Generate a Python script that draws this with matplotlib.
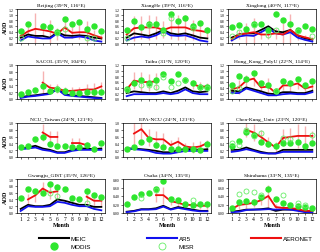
import numpy as np
import matplotlib
matplotlib.use('Agg')
import matplotlib.pyplot as plt
from matplotlib.lines import Line2D

nan = np.nan
months = np.arange(1, 13)

sites = ['Beijing (39°N, 116°E)', 'XiangHe (39°N, 116°E)', 'Xinglong (40°N, 117°E)',
         'SACOL (35°N, 104°E)', 'Taihu (31°N, 120°E)', 'Hong_Kong_PolyU (22°N, 114°E)',
         'NCU_Taiwan (24°N, 121°E)', 'EPA-NCU (24°N, 121°E)', 'Chen-Kung_Univ (23°N, 120°E)',
         'Gwangju_GIST (35°N, 126°E)', 'Osaka (34°N, 135°E)', 'Shirahama (33°N, 135°E)']
ytops = [1.2, 1.2, 1.2, 1.0, 1.2, 1.2, 1.0, 1.0, 1.0, 1.0, 0.8, 0.8]

meic = [
    [0.19, 0.30, 0.25, 0.25, 0.19, 0.38, 0.27, 0.25, 0.27, 0.25, 0.19, 0.16],
    [0.19, 0.34, 0.30, 0.25, 0.34, 0.46, 0.34, 0.30, 0.34, 0.27, 0.19, 0.16],
    [0.19, 0.30, 0.34, 0.34, 0.46, 0.59, 0.41, 0.38, 0.46, 0.27, 0.16, 0.12],
    [0.05, 0.09, 0.11, 0.14, 0.17, 0.31, 0.14, 0.11, 0.09, 0.07, 0.05, 0.03],
    [0.21, 0.27, 0.24, 0.21, 0.21, 0.27, 0.21, 0.29, 0.41, 0.27, 0.24, 0.27],
    [0.29, 0.27, 0.41, 0.34, 0.27, 0.19, 0.17, 0.24, 0.24, 0.21, 0.21, 0.29],
    [0.25, 0.28, 0.33, 0.25, 0.21, 0.14, 0.14, 0.21, 0.25, 0.25, 0.23, 0.25],
    [0.25, 0.25, 0.23, 0.21, 0.18, 0.14, 0.14, 0.21, 0.23, 0.23, 0.21, 0.23],
    [0.21, 0.21, 0.28, 0.21, 0.15, 0.11, 0.11, 0.21, 0.21, 0.21, 0.21, 0.21],
    [0.12, 0.24, 0.20, 0.20, 0.24, 0.40, 0.36, 0.30, 0.24, 0.24, 0.18, 0.18],
    [0.03, 0.05, 0.09, 0.09, 0.11, 0.17, 0.09, 0.14, 0.11, 0.08, 0.05, 0.05],
    [0.03, 0.05, 0.08, 0.08, 0.09, 0.11, 0.05, 0.08, 0.08, 0.08, 0.03, 0.03],
]
ar5 = [
    [0.09, 0.23, 0.19, 0.16, 0.16, 0.34, 0.19, 0.19, 0.23, 0.19, 0.09, 0.05],
    [0.09, 0.19, 0.23, 0.19, 0.27, 0.41, 0.27, 0.25, 0.27, 0.19, 0.09, 0.05],
    [0.09, 0.23, 0.27, 0.25, 0.38, 0.52, 0.34, 0.30, 0.38, 0.19, 0.11, 0.05],
    [0.03, 0.07, 0.09, 0.12, 0.15, 0.29, 0.12, 0.09, 0.07, 0.05, 0.03, 0.02],
    [0.10, 0.17, 0.17, 0.17, 0.17, 0.21, 0.17, 0.21, 0.34, 0.21, 0.17, 0.17],
    [0.21, 0.21, 0.37, 0.29, 0.21, 0.13, 0.13, 0.17, 0.19, 0.17, 0.17, 0.24],
    [0.23, 0.25, 0.28, 0.21, 0.18, 0.12, 0.12, 0.18, 0.21, 0.21, 0.21, 0.21],
    [0.25, 0.23, 0.21, 0.18, 0.12, 0.10, 0.10, 0.14, 0.18, 0.18, 0.18, 0.18],
    [0.15, 0.18, 0.23, 0.18, 0.12, 0.10, 0.10, 0.15, 0.15, 0.15, 0.15, 0.15],
    [0.06, 0.20, 0.18, 0.18, 0.20, 0.33, 0.30, 0.24, 0.20, 0.20, 0.12, 0.08],
    [0.02, 0.04, 0.08, 0.08, 0.09, 0.15, 0.08, 0.12, 0.09, 0.06, 0.04, 0.04],
    [0.02, 0.03, 0.07, 0.08, 0.08, 0.09, 0.08, 0.09, 0.08, 0.05, 0.02, 0.02],
]
aeronet = [
    [0.25, 0.41, 0.50, 0.46, 0.41, 0.32, 0.55, 0.36, 0.38, 0.38, 0.27, 0.19],
    [0.30, 0.52, 0.55, 0.55, 0.55, 0.46, 0.55, 0.55, 0.55, 0.46, 0.43, 0.38],
    [0.14, 0.30, 0.34, 0.38, 0.30, 0.30, 0.34, 0.30, 0.46, 0.27, 0.20, 0.14],
    [nan, nan, nan, 0.48, 0.33, 0.31, 0.24, 0.24, 0.26, 0.28, 0.28, 0.37],
    [0.34, 0.65, 0.60, 0.60, 0.62, nan, nan, nan, nan, 0.52, 0.44, 0.44],
    [0.34, 0.41, 0.65, 0.72, 0.41, 0.44, 0.21, 0.48, 0.48, 0.55, 0.37, 0.44],
    [nan, nan, nan, 0.72, 0.59, 0.59, nan, 0.41, 0.41, 0.35, nan, nan],
    [nan, 0.69, 0.82, 0.56, 0.52, 0.52, 0.35, 0.45, 0.31, 0.28, 0.31, 0.41],
    [nan, nan, 0.80, 0.72, 0.59, 0.43, 0.28, 0.56, 0.59, 0.62, 0.62, 0.62],
    [nan, 0.40, 0.52, 0.72, 0.60, 0.64, nan, nan, nan, 0.48, 0.36, 0.36],
    [nan, nan, nan, nan, 0.42, 0.42, 0.28, 0.24, 0.19, 0.19, 0.17, 0.17],
    [0.09, 0.19, 0.21, 0.24, 0.30, 0.40, 0.14, 0.12, 0.12, 0.09, 0.05, 0.05],
]
aeronet_err = [
    [0.10, 0.15, 0.55, 0.20, 0.40, 0.20, 0.35, 0.20, 0.25, 0.40, 0.20, 0.10],
    [0.15, 0.45, 0.40, 0.45, 0.40, 0.30, 0.40, 0.45, 0.45, 0.35, 0.30, 0.20],
    [0.08, 0.15, 0.35, 0.50, 0.15, 0.15, 0.20, 0.40, 0.55, 0.15, 0.10, 0.08],
    [nan, nan, nan, 0.35, 0.12, 0.12, 0.10, 0.10, 0.10, 0.15, 0.20, 0.12],
    [0.10, 0.30, 0.35, 0.30, 0.30, nan, nan, nan, nan, 0.15, 0.15, 0.12],
    [0.12, 0.25, 0.20, 0.25, 0.15, 0.30, 0.10, 0.15, 0.20, 0.20, 0.15, 0.15],
    [nan, nan, nan, 0.25, 0.18, 0.18, nan, 0.15, 0.15, 0.10, nan, nan],
    [nan, 0.30, 0.30, 0.25, 0.25, 0.20, 0.15, 0.15, 0.10, 0.15, 0.15, 0.10],
    [nan, nan, 0.20, 0.25, 0.20, 0.15, 0.15, 0.25, 0.25, 0.35, 0.30, 0.15],
    [nan, 0.15, 0.20, 0.20, 0.20, 0.20, nan, nan, nan, 0.20, 0.15, 0.15],
    [nan, nan, nan, nan, 0.15, 0.20, 0.10, 0.10, 0.08, 0.08, 0.08, 0.08],
    [0.05, 0.10, 0.10, 0.10, 0.12, 0.25, 0.08, 0.06, 0.06, 0.06, 0.05, 0.05],
]
modis = [
    [0.41, 0.66, nan, 0.59, 0.55, 0.38, 0.84, 0.68, 0.73, 0.49, 0.59, 0.41],
    [0.46, 0.77, 0.57, 0.68, 0.66, 0.46, 1.03, 0.77, 0.88, 0.59, 0.70, 0.46],
    [0.57, 0.63, 0.49, 0.66, 0.66, 0.46, 1.03, 0.81, 0.66, 0.46, 0.59, 0.49],
    [0.14, 0.20, 0.26, 0.37, 0.24, 0.28, 0.24, 0.17, 0.17, 0.20, 0.20, 0.22],
    [0.34, 0.55, 0.68, 0.58, 0.68, 0.89, 0.65, 0.89, 0.68, 0.55, 0.44, 0.44],
    [0.48, 0.81, 0.72, 0.93, 0.58, 0.48, 0.29, 0.65, 0.55, 0.72, 0.48, 0.65],
    [0.28, 0.31, 0.52, 0.59, 0.38, 0.31, 0.31, 0.28, 0.28, 0.35, 0.25, 0.41],
    [0.25, 0.28, 0.43, 0.54, 0.35, 0.28, 0.25, 0.25, 0.25, 0.25, 0.21, 0.38],
    [0.31, 0.48, 0.74, 0.66, 0.45, 0.38, 0.31, 0.41, 0.41, 0.45, 0.31, 0.41],
    [0.45, 0.72, 0.64, 0.60, 0.84, 0.76, 0.72, 0.45, 0.40, 0.64, 0.52, 0.48],
    [0.21, 0.38, 0.45, 0.47, 0.57, 0.75, 0.33, 0.30, 0.21, 0.19, 0.21, 0.21],
    [0.11, 0.26, 0.28, 0.26, 0.38, 0.57, 0.33, 0.24, 0.19, 0.17, 0.14, 0.11],
]
misr = [
    [0.16, nan, nan, nan, nan, 0.34, 0.49, nan, nan, 0.19, 0.16, nan],
    [0.19, nan, nan, 0.63, nan, 0.34, 0.88, nan, nan, 0.52, nan, nan],
    [0.25, 0.38, nan, 0.63, nan, 0.30, 0.46, nan, nan, 0.41, nan, 0.25],
    [nan, nan, nan, nan, nan, 0.30, nan, nan, nan, nan, nan, nan],
    [0.31, nan, 0.48, 0.48, 0.44, 0.79, 0.44, 0.58, 0.68, nan, 0.42, 0.40],
    [0.29, 0.39, nan, nan, nan, nan, 0.29, nan, nan, nan, nan, nan],
    [nan, nan, nan, nan, nan, nan, nan, nan, nan, nan, nan, nan],
    [nan, nan, nan, nan, nan, nan, nan, nan, nan, nan, nan, nan],
    [0.41, 0.35, 0.79, 0.62, 0.72, nan, nan, 0.56, 0.52, nan, nan, 0.65],
    [nan, nan, nan, nan, 0.60, 0.50, nan, nan, nan, 0.30, nan, nan],
    [nan, nan, 0.36, nan, 0.55, nan, nan, nan, nan, 0.30, nan, nan],
    [nan, 0.45, 0.52, 0.49, 0.42, nan, nan, 0.42, nan, 0.24, 0.18, nan],
]

serif = 'Liberation Serif'
green = '#2ee62e'

fig = plt.figure(figsize=(3.2, 2.53), dpi=100)
W, H = 320.0, 253.0
col_left = [17, 123, 228]
row_top = [10, 66, 124, 180]
aw, ah = 88, 34

for i in range(12):
    r, c = divmod(i, 3)
    ax = fig.add_axes([col_left[c] / W, 1 - (row_top[r] + ah) / H, aw / W, ah / H])
    ax.errorbar(months, aeronet[i], yerr=aeronet_err[i], fmt='none',
                ecolor='#f08080', alpha=0.6, elinewidth=1.0, capsize=0)
    ax.plot(months, meic[i], color='black', lw=1.3)
    ax.plot(months, ar5[i], color='#1010ee', lw=1.3)
    ax.plot(months, aeronet[i], color='#ee1010', lw=1.3)
    ax.plot(months, modis[i], 'o', color=green, ms=3.6, mec=green)
    ax.plot(months, misr[i], 'o', mfc='none', mec='#66ee66', ms=3.6, mew=0.6)
    ax.set_xlim(0.5, 12.5)
    ax.set_ylim(0, ytops[i])
    yt = np.arange(0, ytops[i] + 0.01, 0.2)
    ax.set_yticks(yt)
    fmt = '%.2f' if ytops[i] == 0.8 else '%.1f'
    ax.set_yticklabels([fmt % v for v in yt])
    ax.set_xticks(months)
    ax.tick_params(labelsize=2.8, length=1.2, width=0.4, pad=1)
    for s in ax.spines.values():
        s.set_linewidth(0.5)
    if r < 3:
        ax.set_xticklabels([])
    else:
        for lab in ax.get_xticklabels():
            lab.set_fontsize(4)
            lab.set_family(serif)
        ax.set_xlabel('Month', fontsize=4.3, family=serif, fontweight='bold', labelpad=1)
    for lab in ax.get_yticklabels():
        lab.set_family(serif)
    if c == 0:
        ax.set_ylabel('AOD', fontsize=4.3, family=serif, fontweight='bold', labelpad=1)
    ax.set_title(sites[i], fontsize=3.9, family=serif, pad=2)

handles = [
    Line2D([], [], color='black', lw=1.5),
    Line2D([], [], ls='none', marker='o', color=green, ms=5),
    Line2D([], [], color='#1010ee', lw=1.5),
    Line2D([], [], ls='none', marker='o', mfc='none', mec='#66ee66', ms=5, mew=0.6),
    Line2D([], [], color='#ee1010', lw=1.5),
]
labels = ['MEIC', 'MODIS', 'AR5', 'MISR', 'AERONET']
fig.legend(handles, labels, ncol=3, loc='lower left', bbox_to_anchor=(36 / W, 0.0),
           frameon=False, prop={'family': 'Liberation Sans', 'size': 4.5},
           handlelength=4.8, columnspacing=9, labelspacing=0.55, handletextpad=0.3,
           borderaxespad=0)

fig.savefig('out.png', dpi=100)
